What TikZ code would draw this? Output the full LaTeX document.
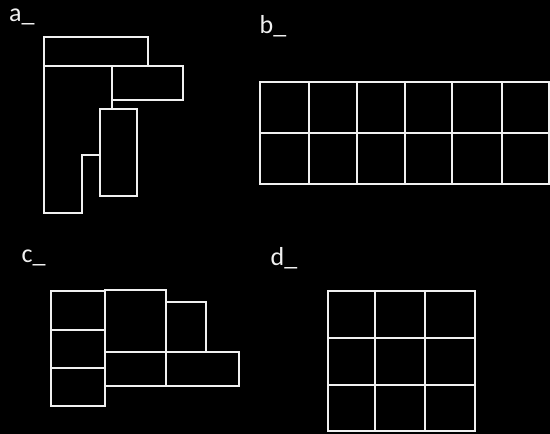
\documentclass[tikz,border=0pt]{standalone}
\usepackage{fontspec}
\setmainfont{Carlito}
\begin{document}
\begin{tikzpicture}[x=1pt,y=-1pt,
  shape line/.style={draw=white!94!black,line width=2.2pt,line join=miter},
  panel label/.style={anchor=base west,inner sep=0pt,text=white!94!black,font=\fontsize{26}{30}\selectfont}]
\fill[black] (0,0) rectangle (550,434);
\useasboundingbox (0,0) rectangle (550,434);
% labels
\node[panel label] (la) at (9,21) {a\_};
\node[panel label] (lb) at (259.5,33) {b\_};
\node[panel label] (lc) at (21.5,262) {c\_};
\node[panel label] (ld) at (270.5,265) {d\_};
% panel a
\draw[shape line] (44,36.7) rectangle (148,66);
\draw[shape line] (112,66) rectangle (183,100);
\draw[shape line] (100,109) rectangle (137,196);
\draw[shape line] (100,155) -- (82,155) -- (82,213) -- (44,213) -- (44,66);
\draw[shape line] (112,100) -- (112,109);
% panel b
\draw[shape line] (260.3,82) rectangle (549,183.7);
\draw[shape line] (260.3,133.3) -- (549,133.3);
\foreach \xx in {308.7,356.7,405.3,452.3,501.7}
  \draw[shape line] (\xx,82) -- (\xx,183.7);
% panel c
\draw[shape line] (50.7,290.7) rectangle (104.7,405.7);
\draw[shape line] (50.7,329.7) -- (104.7,329.7);
\draw[shape line] (50.7,368) -- (104.7,368);
\draw[shape line] (104.7,290) rectangle (165.7,352.3);
\draw[shape line] (104.7,352.3) rectangle (165.7,385.7);
\draw[shape line] (165.7,302.3) rectangle (206.3,352.3);
\draw[shape line] (165.7,352.3) rectangle (238.7,386.3);
% panel d
\draw[shape line] (328.3,291) rectangle (475,430.7);
\draw[shape line] (375.3,291) -- (375.3,430.7);
\draw[shape line] (424.7,291) -- (424.7,430.7);
\draw[shape line] (328.3,337.7) -- (475,337.7);
\draw[shape line] (328.3,384.7) -- (475,384.7);
\end{tikzpicture}
\end{document}
